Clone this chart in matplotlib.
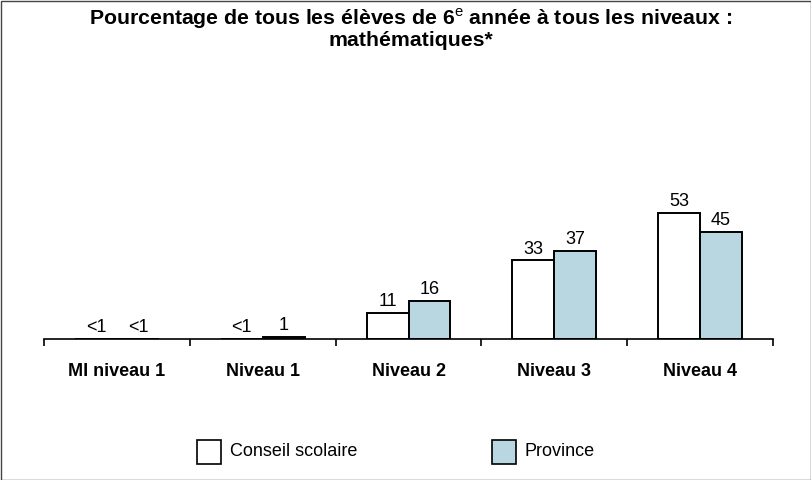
"""Bar chart: percentage of grade 6 students at each level, mathematics."""

import matplotlib
matplotlib.use("Agg")
import matplotlib.pyplot as plt
import numpy as np
from matplotlib.patches import Rectangle

plt.rcParams["font.family"] = ["Liberation Sans", "DejaVu Sans"]
plt.rcParams["mathtext.fontset"] = "custom"
plt.rcParams["mathtext.rm"] = "Liberation Sans"

categories = ["MI niveau 1", "Niveau 1", "Niveau 2", "Niveau 3", "Niveau 4"]
conseil = [0, 0, 11, 33, 53]
province = [0, 1, 16, 37, 45]
conseil_labels = ["<1", "<1", "11", "33", "53"]
province_labels = ["<1", "1", "16", "37", "45"]
series_names = ["Conseil scolaire", "Province"]

blue = "#b9d7e1"
bar_w = 0.288

fig = plt.figure(figsize=(8.12, 4.8), dpi=100)
ax = fig.add_axes([44 / 812, 141 / 480, 729 / 812, 269 / 480])

x = np.arange(len(categories))
b1 = ax.bar(x - bar_w / 2, conseil, bar_w, color="white", edgecolor="black",
            linewidth=1.4)
b2 = ax.bar(x + bar_w / 2, province, bar_w, color=blue, edgecolor="black",
            linewidth=1.4)

for bars, labels in ((b1, conseil_labels), (b2, province_labels)):
    for rect, lab in zip(bars, labels):
        ax.annotate(lab, (rect.get_x() + rect.get_width() / 2, rect.get_height()),
                    xytext=(0, 2), textcoords="offset points",
                    ha="center", va="bottom", fontsize=13)

ax.set_xlim(-0.5, len(categories) - 0.5)
ax.set_ylim(0, 269 / 2.38)
for s in ("top", "right", "left"):
    ax.spines[s].set_visible(False)
ax.spines["bottom"].set_linewidth(1.2)
ax.set_yticks([])
ax.set_xticks(x)
ax.set_xticklabels(categories, fontsize=13, fontweight="bold")
ax.tick_params(axis="x", which="major", length=0, pad=17)
ax.set_xticks(np.arange(len(categories) + 1) - 0.5, minor=True)
ax.tick_params(axis="x", which="minor", length=5, width=1.2, direction="out")

fig.text(0.5055, 1 - 19 / 480,
         "Pourcentage de tous les élèves de 6$^{\\rm e}$ année à tous les niveaux :",
         ha="center", va="center", fontsize=15.3, fontweight="bold")
fig.text(0.5055, 1 - 40 / 480, "mathématiques*", ha="center", va="center",
         fontsize=15.3, fontweight="bold")

# legend drawn as squares with labels
for xpx, name, col in ((197, series_names[0], "white"), (492, series_names[1], blue)):
    fig.add_artist(Rectangle((xpx / 812, 16 / 480), 24 / 812, 24 / 480,
                             transform=fig.transFigure, facecolor=col,
                             edgecolor="black", linewidth=1.2))
    fig.text((xpx + 33) / 812, 28 / 480, name, ha="left", va="center",
             fontsize=13)

fig.add_artist(Rectangle((0.5 / 812, 0.5 / 480), 810.5 / 812, 478.5 / 480,
                         transform=fig.transFigure, fill=False,
                         edgecolor="#444444", linewidth=1.0))

fig.savefig("out.png", dpi=100)
